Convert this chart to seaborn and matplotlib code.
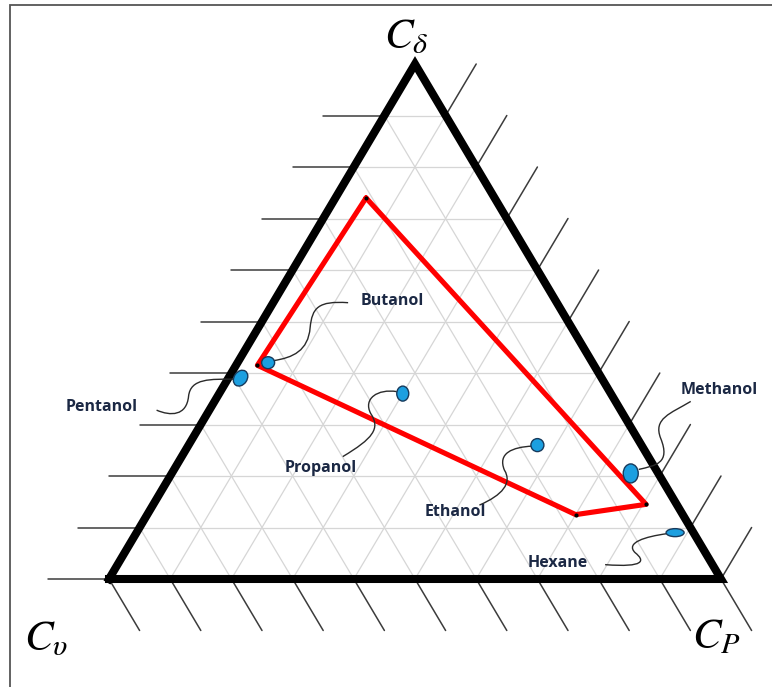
import numpy as np
import pandas as pd
import matplotlib
matplotlib.use("Agg")
import matplotlib.pyplot as plt
import matplotlib.transforms as mtransforms
from matplotlib.patches import Ellipse, PathPatch, Rectangle
from matplotlib.path import Path
import seaborn as sns

# ---- data: ternary compositions in percent (C_delta, C_P, C_upsilon) ----
solvents = ["Butanol", "Pentanol", "Propanol", "Ethanol", "Methanol", "Hexane"]
solvent_cd = [42.0, 39.0, 36.0, 26.0, 20.5, 9.0]
solvent_cp = [5.0, 2.0, 30.0, 57.0, 75.0, 88.0]
solvent_cv = [53.0, 59.0, 34.0, 17.0, 4.5, 3.0]

# solubility region (polygon vertices, in drawing order)
region_cd = [74.0, 14.5, 12.5, 41.5]
region_cp = [5.0, 80.5, 70.0, 3.5]
region_cv = [21.0, 5.0, 17.5, 55.0]

corner_labels = [r"$C_{\delta}$", r"$C_{\upsilon}$", r"$C_{P}$"]

# ---- styling ----
sns.set_theme(style="white")
plt.rcParams["mathtext.fontset"] = "stix"
plt.rcParams["font.family"] = ["Open Sans", "DejaVu Sans"]

DPI = 100
fig = plt.figure(figsize=(7.72, 6.87), dpi=DPI)
ax = fig.add_axes([0, 0, 1, 1])
ax.set_xlim(-109 / 612, 663 / 612)
ax.set_ylim((579 - 687) / 515, 579 / 515)
ax.axis("off")


def tern(cd, cp):
    """Fractions (C_delta, C_P) -> Cartesian position in the triangle."""
    cd = np.asarray(cd, dtype=float)
    cp = np.asarray(cp, dtype=float)
    return cp + cd / 2.0, cd


# grid lines parallel to each side
grid_kw = dict(color="#d6d6d6", lw=0.9, zorder=1, solid_capstyle="butt")
for k in range(1, 10):
    f = k / 10
    ax.plot(*tern([f, f], [0, 1 - f]), **grid_kw)          # constant C_delta
    ax.plot(*tern([0, 1 - f], [f, f]), **grid_kw)          # constant C_P
    ax.plot(*tern([0, 1 - f], [1 - f, 0]), **grid_kw)      # constant C_upsilon

# outer tick marks continuing the grid one cell outward
tick_kw = dict(color="#3c3c3c", lw=1.1, zorder=2)
for k in range(0, 10):
    f = k / 10
    ax.plot(*tern([f, f], [0, -0.1]), **tick_kw)                 # left side
    ax.plot(*tern([f, f + 0.1], [1 - f, 1 - f]), **tick_kw)      # right side
for j in range(0, 11):
    f = j / 10
    ax.plot(*tern([0, -0.1], [f, f + 0.1]), **tick_kw)           # base

# triangle frame
tx, ty = tern([0, 0, 1, 0], [0, 1, 0, 0])
ax.plot(tx, ty, color="black", lw=5.8, zorder=5,
        solid_joinstyle="miter", solid_capstyle="projecting")

# solubility region
rx, ry = tern(np.array(region_cd) / 100, np.array(region_cp) / 100)
region = pd.DataFrame({"x": np.append(rx, rx[0]), "y": np.append(ry, ry[0]),
                       "order": np.arange(len(rx) + 1)})
sns.lineplot(data=region, x="x", y="y", sort=False, estimator=None,
             color="#ff0000", lw=3.7, ax=ax, zorder=6)
sns.scatterplot(x=rx, y=ry, color="black", s=9, linewidth=0, ax=ax, zorder=7)

# solvents: blob size (px), rotation, leader curve and label offsets (px, y down)
blob_style = {
    "Butanol":  (13, 12, 0),
    "Pentanol": (13, 17, -35),
    "Propanol": (12, 15, 0),
    "Ethanol":  (13, 13, 0),
    "Methanol": (15, 19, 0),
    "Hexane":   (18, 8, 0),
}
leaders = {
    "Butanol":  [(5, -2), (25, -5), (40, -12), (42, -35), (44, -55), (50, -62), (80, -60)],
    "Pentanol": [(-6, 1), (-30, 1), (-50, 0), (-52, 18), (-54, 38), (-70, 38), (-84, 32)],
    "Propanol": [(-6, -2), (-25, -5), (-40, 5), (-32, 20), (-22, 35), (-30, 45), (-60, 63)],
    "Ethanol":  [(-5, 1), (-25, 2), (-40, 8), (-33, 25), (-25, 38), (-35, 50), (-58, 60)],
    "Methanol": [(8, -4), (25, -8), (40, -10), (30, -35), (22, -55), (40, -60), (60, -72)],
    "Hexane":   [(-8, 1), (-30, 4), (-50, 10), (-40, 20), (-30, 28), (-30, 35), (-70, 32)],
}
label_offsets = {
    "Butanol": (124, -62), "Pentanol": (-139, 29), "Propanol": (-82, 74),
    "Ethanol": (-82, 67), "Methanol": (88, -83), "Hexane": (-117, 30),
}

sx, sy = tern(np.array(solvent_cd) / 100, np.array(solvent_cp) / 100)
codes = [Path.MOVETO] + [Path.CURVE4] * 6
for name, x0, y0 in zip(solvents, sx, sy):
    at_point = fig.dpi_scale_trans + mtransforms.ScaledTranslation(x0, y0, ax.transData)
    verts = [(dx / DPI, -dy / DPI) for dx, dy in leaders[name]]
    ax.add_patch(PathPatch(Path(verts, codes), facecolor="none", edgecolor="#2a2a2a",
                           lw=1.0, transform=at_point, zorder=8))
    w, h, ang = blob_style[name]
    ax.add_patch(Ellipse((0, 0), w / DPI, h / DPI, angle=ang, transform=at_point,
                         facecolor="#1c9fe0", edgecolor="#173a5c", lw=1.0, zorder=9))
    dx, dy = label_offsets[name]
    ax.annotate(name, xy=(x0, y0), xytext=(dx, -dy), textcoords="offset pixels",
                ha="center", va="center", fontsize=11.5, fontweight="bold",
                color="#1b2844", zorder=10)

# corner labels
corners = [tern(1, 0), tern(0, 0), tern(0, 1)]
corner_offsets = [(-31, 16), (-85, -71), (-29, -69)]
for lab, (cx, cy), (ox, oy) in zip(corner_labels, corners, corner_offsets):
    ax.annotate(lab, xy=(float(cx), float(cy)), xytext=(ox, oy),
                textcoords="offset pixels", ha="left", va="baseline",
                fontsize=31, color="black", zorder=10)

# figure border
fig.patches.append(Rectangle((10 / 772, -0.1), 1.2, 1 - 5 / 687 + 0.1,
                             transform=fig.transFigure, fill=False,
                             edgecolor="#555555", lw=1.3))

fig.savefig("out.png", dpi=DPI)
